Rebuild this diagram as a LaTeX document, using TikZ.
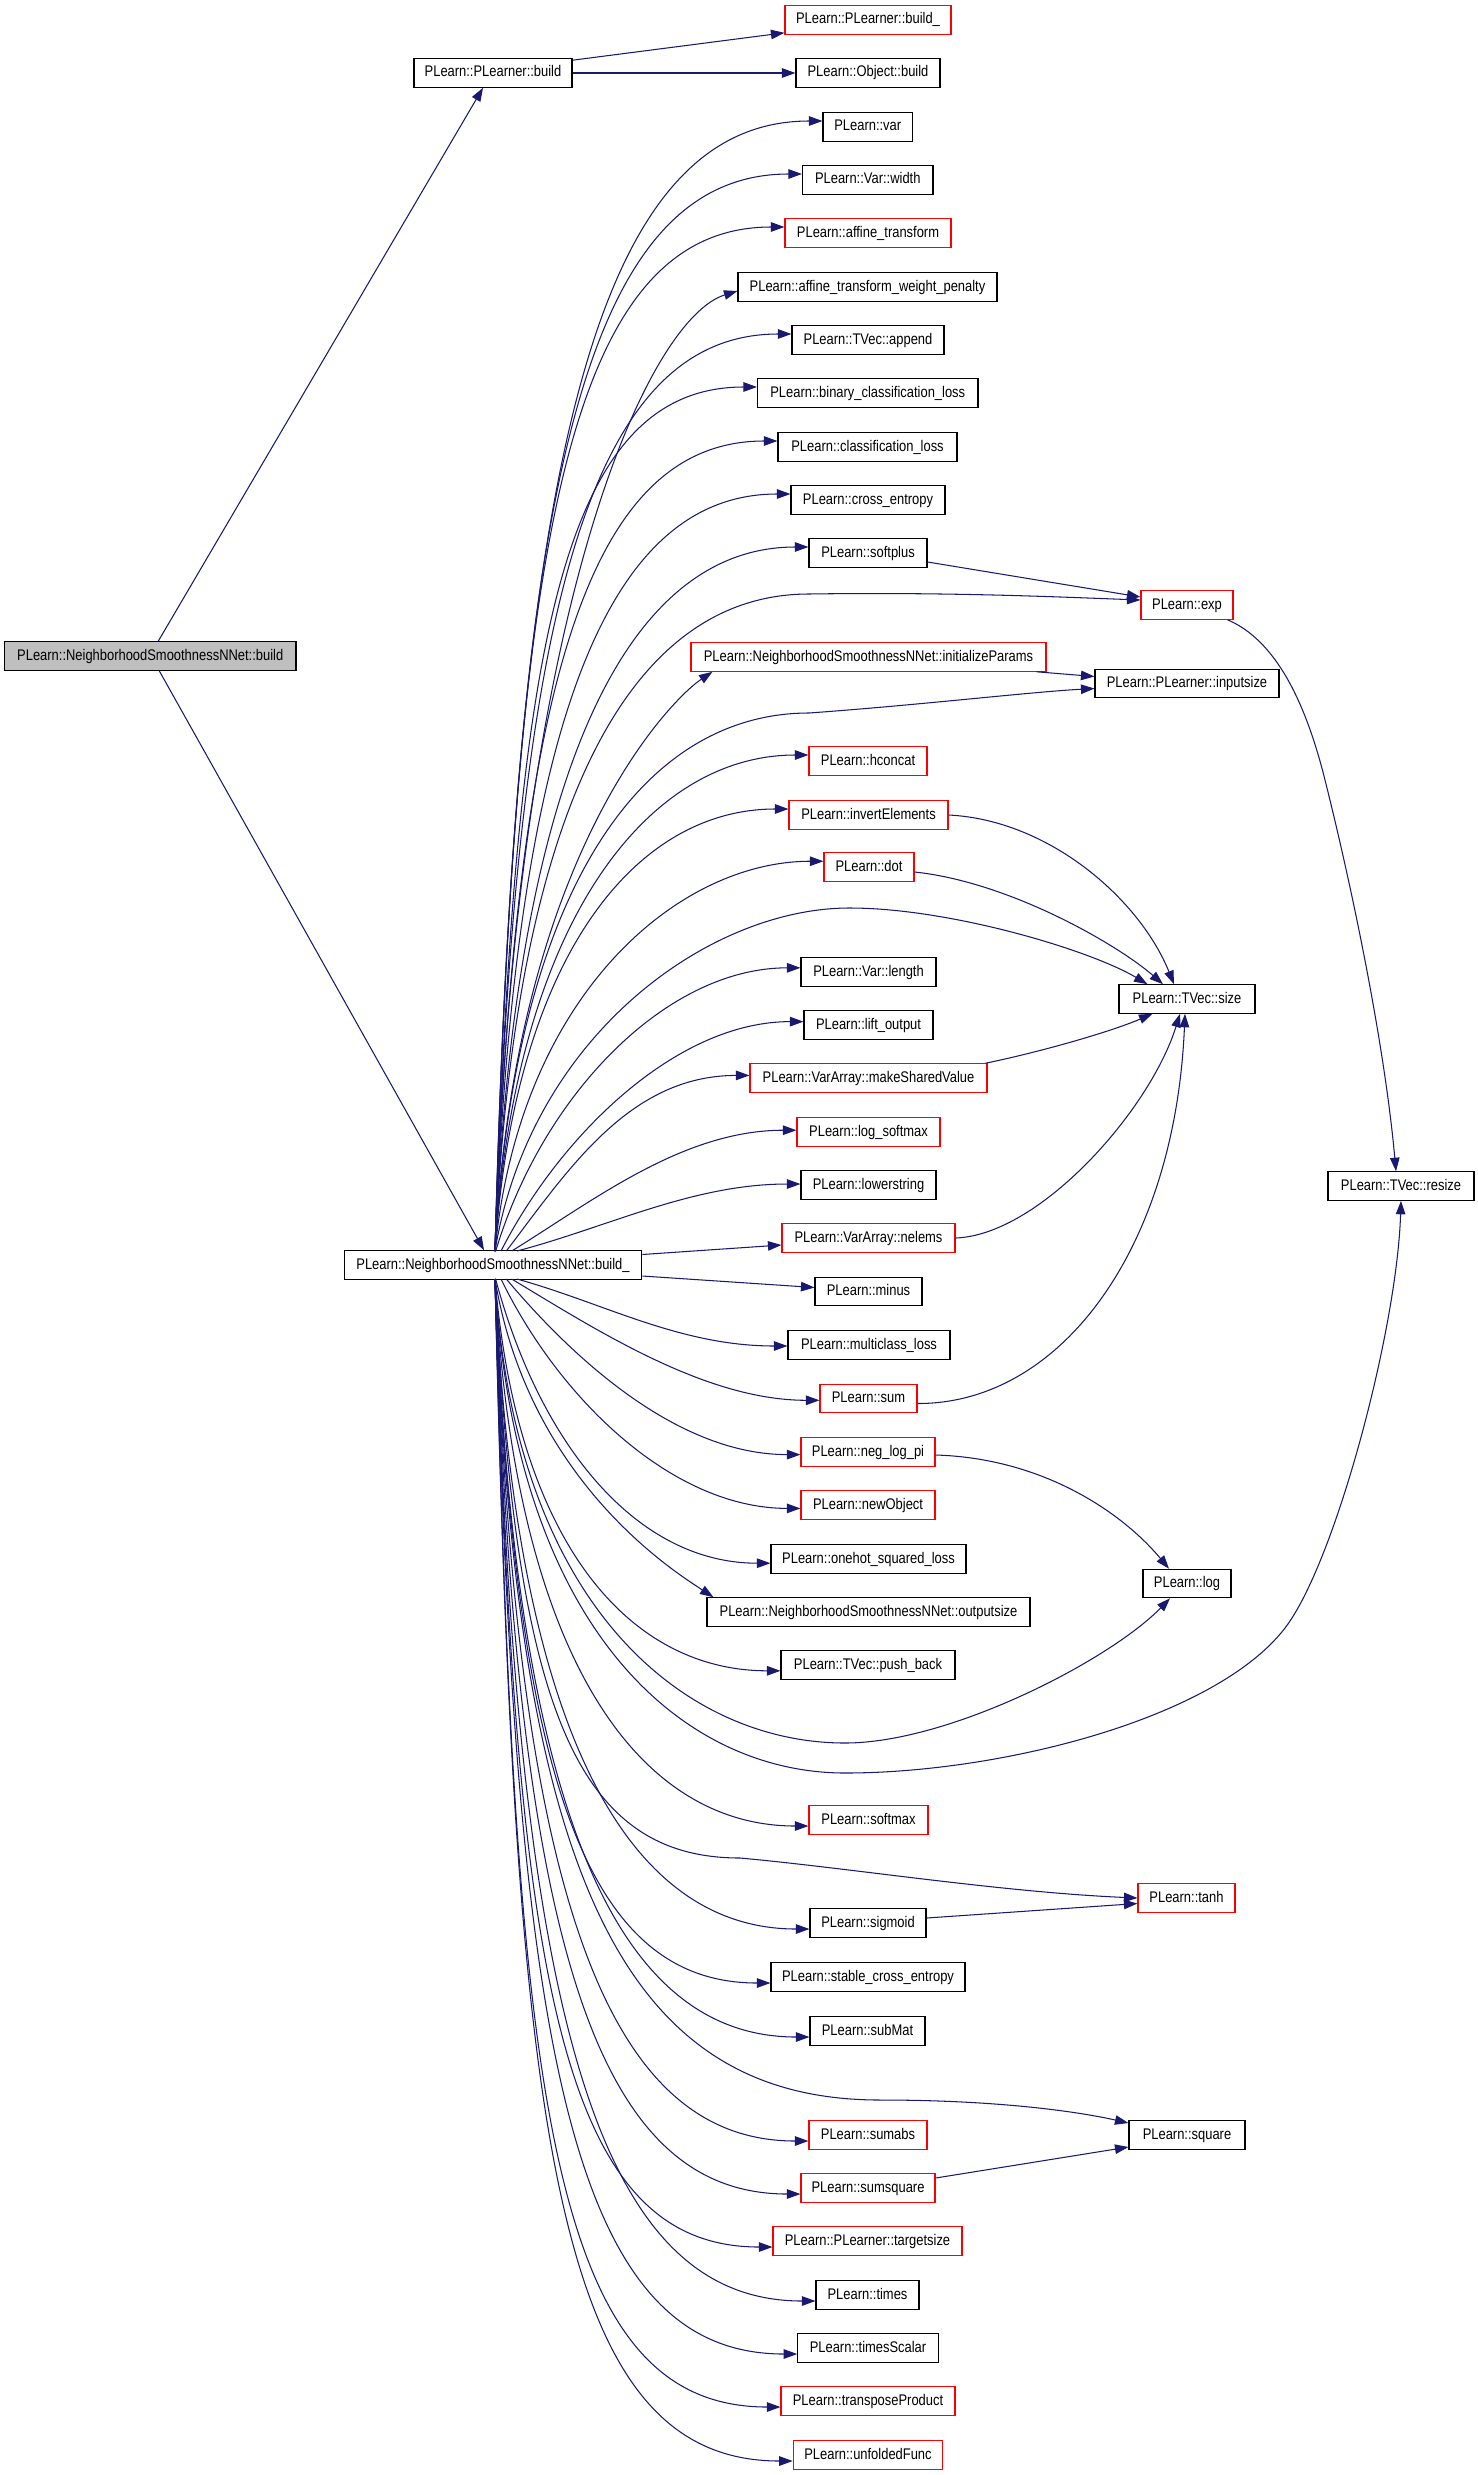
\documentclass[tikz,border=0pt]{standalone}
\usepackage{fontspec}
\setmainfont{Liberation Sans}[FakeStretch=0.84]
\usetikzlibrary{arrows.meta,calc}
\definecolor{edgecol}{HTML}{191970}
\definecolor{rootfill}{HTML}{BFBFBF}
\tikzset{
  box/.style={draw=black, line width=1.1pt, minimum height=28.5pt, inner sep=0pt,
    font=\fontsize{15.4}{18}\selectfont, text height=11pt, text depth=3pt, anchor=center},
  rbox/.style={box, draw=red},
  gbox/.style={box, fill=rootfill},
  edge/.style={draw=edgecol, line width=1.05pt, -{Triangle[length=13.5pt,width=9.5pt]}},
}
% fan edge from bu to a node anchor
\newcommand\fan[6]{%
  \pgfpointanchor{bu}{center}\pgfgetlastxy{\fnBx}{\fnBy}%
  \pgfpointanchor{#1}{#2}\pgfgetlastxy{\fnTx}{\fnTy}%
  \pgfmathsetmacro\fnbx{\fnBx}%
  \pgfmathsetmacro\fnby{\fnBy}%
  \pgfmathsetmacro\fntx{\fnTx}%
  \pgfmathsetmacro\fnty{\fnTy}%
  \pgfmathsetmacro\fnsg{(\fnty>\fnby)?1:-1}%
  \pgfmathsetmacro\fndc{abs(\fnty-\fnby)}%
  \pgfmathsetmacro\fnox{2+max(0,30-\fndc/10)}%
  \pgfmathsetmacro\fnsx{\fnbx+\fnox}%
  \pgfmathsetmacro\fnsoff{\fnsg*14}%
  \pgfmathsetmacro\fnsy{\fnby+\fnsoff}%
  \pgfmathsetmacro\fnds{abs(\fnty-\fnsy)}%
  \pgfmathsetmacro\fnw{min(1,\fnds/400)}%
  \pgfmathsetmacro\fnfr{(\fnsg>0)?0.68:0.72}%
  \pgfmathsetmacro\fnax{\fnsx+20+(1-\fnw)*0.3*(\fntx-\fnsx)}%
  \pgfmathsetmacro\fnay{\fnsy+\fnsg*\fnds*(\fnfr*\fnw+(1-\fnw)*0.3)}%
  \pgfmathsetmacro\fney{\fnsg*(#3)*\fnw}%
  \ifx\relax#4\relax
    \pgfmathsetmacro\fncx{\fntx-100-0.12*\fnds}%
    \pgfmathsetmacro\fncy{\fnty+\fney}%
  \else
    \pgfmathsetmacro\fncx{#4}%
    \pgfmathsetmacro\fncy{-(#5)}%
  \fi
  \draw[edge,#6] ($(bu.center)+(\fnox pt,\fnsoff pt)$) .. controls (\fnax pt,\fnay pt) and (\fncx pt,\fncy pt) .. ($(#1.#2)+(0pt,\fney pt)$);%
}
\begin{document}
\begin{tikzpicture}[x=1pt,y=-1pt]
\fill[white] (0,0) rectangle (1477,2475);
\useasboundingbox (0,0) rectangle (1477,2475);

\node[rbox, minimum width=166pt] (plbu) at (868,20) {PLearn::PLearner::build\_};
\node[box, minimum width=144pt] (obj) at (868,73) {PLearn::Object::build};
\node[box, minimum width=89.5pt] (var) at (867.75,127) {PLearn::var};
\node[box, minimum width=130.5pt] (vwidth) at (867.75,180) {PLearn::Var::width};
\node[rbox, minimum width=166pt] (afft) at (868,233) {PLearn::affine\_transform};
\node[box, minimum width=259pt] (afftw) at (867.5,287) {PLearn::affine\_transform\_weight\_penalty};
\node[box, minimum width=152pt] (append) at (868,340) {PLearn::TVec::append};
\node[box, minimum width=220.5pt] (bincl) at (867.75,393) {PLearn::binary\_classification\_loss};
\node[box, minimum width=179pt] (cl) at (867.5,447) {PLearn::classification\_loss};
\node[box, minimum width=154pt] (xent) at (868,500) {PLearn::cross\_entropy};
\node[box, minimum width=118pt] (softplus) at (868,553) {PLearn::softplus};
\node[rbox, minimum width=92pt] (exp) at (1187,605) {PLearn::exp};
\node[rbox, minimum width=355pt] (initp) at (868.5,657) {PLearn::NeighborhoodSmoothnessNNet::initializeParams};
\node[box, minimum width=184pt] (inputsize) at (1187,683.5) {PLearn::PLearner::inputsize};
\node[rbox, minimum width=118pt] (hconcat) at (868,761) {PLearn::hconcat};
\node[rbox, minimum width=159pt] (inv) at (868.5,815) {PLearn::invertElements};
\node[rbox, minimum width=90pt] (dot) at (869,867) {PLearn::dot};
\node[box, minimum width=135pt] (vlength) at (868.5,972) {PLearn::Var::length};
\node[box, minimum width=136pt] (tsize) at (1187,999) {PLearn::TVec::size};
\node[box, minimum width=129pt] (lift) at (868.5,1025) {PLearn::lift\_output};
\node[rbox, minimum width=237pt] (msv) at (868.5,1078) {PLearn::VarArray::makeSharedValue};
\node[rbox, minimum width=143pt] (lsm) at (868.5,1132) {PLearn::log\_softmax};
\node[box, minimum width=135pt] (lower) at (868.5,1185) {PLearn::lowerstring};
\node[box, minimum width=146pt] (resize) at (1401,1186) {PLearn::TVec::resize};
\node[rbox, minimum width=173pt] (nelems) at (868.5,1238) {PLearn::VarArray::nelems};
\node[box, minimum width=107pt] (minus) at (868.5,1291.5) {PLearn::minus};
\node[box, minimum width=162pt] (mcl) at (869,1345) {PLearn::multiclass\_loss};
\node[rbox, minimum width=97pt] (sum) at (868.5,1398.5) {PLearn::sum};
\node[rbox, minimum width=134pt] (nlp) at (868,1452) {PLearn::neg\_log\_pi};
\node[rbox, minimum width=134pt] (newobj) at (868,1505) {PLearn::newObject};
\node[box, minimum width=195pt] (onehot) at (868.5,1559) {PLearn::onehot\_squared\_loss};
\node[box, minimum width=88pt] (log) at (1187,1583.5) {PLearn::log};
\node[box, minimum width=323pt] (outsize) at (868.5,1612) {PLearn::NeighborhoodSmoothnessNNet::outputsize};
\node[box, minimum width=174pt] (pushb) at (868,1665) {PLearn::TVec::push\_back};
\node[rbox, minimum width=119pt] (softmax) at (868.5,1820) {PLearn::softmax};
\node[rbox, minimum width=97pt] (tanh) at (1186.5,1898) {PLearn::tanh};
\node[box, minimum width=116pt] (sigmoid) at (868,1923) {PLearn::sigmoid};
\node[box, minimum width=194pt] (sce) at (868,1977) {PLearn::stable\_cross\_entropy};
\node[box, minimum width=115pt] (submat) at (867.5,2031) {PLearn::subMat};
\node[box, minimum width=116pt] (square) at (1187,2135) {PLearn::square};
\node[rbox, minimum width=118pt] (sumabs) at (868,2135) {PLearn::sumabs};
\node[rbox, minimum width=134pt] (sumsq) at (868,2188) {PLearn::sumsquare};
\node[rbox, minimum width=189pt] (target) at (867.5,2241) {PLearn::PLearner::targetsize};
\node[box, minimum width=103pt] (times) at (867.5,2295) {PLearn::times};
\node[box, minimum width=140.5pt] (timess) at (868,2348) {PLearn::timesScalar};
\node[rbox, minimum width=174pt] (tprod) at (868,2401) {PLearn::transposeProduct};
\node[rbox, minimum width=149.5pt] (unf) at (868,2455) {PLearn::unfoldedFunc};
\node[gbox, minimum width=291.5pt] (root) at (150.25,656) {PLearn::NeighborhoodSmoothnessNNet::build};
\node[box, minimum width=158pt] (plb) at (493,73) {PLearn::PLearner::build};
\node[box, minimum width=297.5pt] (bu) at (493,1265) {PLearn::NeighborhoodSmoothnessNNet::build\_};

% helper points
\coordinate (vexp) at (809,594);
\coordinate (vinp) at (809,713);
\coordinate (vsize) at (849.5,908);
\coordinate (vlog) at (845,1743);
\coordinate (vres) at (845,1773);
\coordinate (vres2) at (1285,1628);
\coordinate (vtanh) at (740,1858);
\coordinate (vsq) at (880,2100);
\coordinate (vexr) at (1325,780);
\coordinate (initpin) at ($(initp.south west)+(22,0)$);
\coordinate (outpin) at ($(outsize.north west)+(7,0)$);

% left part
\draw[edge] ($(root.north)+(8,0)$) -- ($(plb.south)+(-10,0)$);
\draw[edge] ($(root.south)+(9,0)$) -- ($(bu.north)+(-9,0)$);
\draw[edge] ($(plb.north east)+(0,2)$) -- ($(plbu.south west)+(0,-2)$);
\draw[edge] (plb.east) -- (obj.west);

% fan from build_
\foreach \t in {var,vwidth,afft,append,bincl,cl,xent,softplus,hconcat,inv,dot,vlength,lift,msv,lsm,lower,mcl,sum,nlp,newobj,onehot,pushb,softmax,sigmoid,sce,submat,sumabs,sumsq,target,times,timess,tprod,unf}{\fan{\t}{west}{6}{}{}{}}
\fan{afftw}{west}{-4}{650}{318}{}
\fan{initpin}{center}{0}{670}{700}{}
\fan{outpin}{center}{0}{675}{1572}{}
\draw[edge] ($(bu.east)+(0,-10.5)$) -- ($(nelems.west)+(0,7)$);
\draw[edge] ($(bu.east)+(0,11)$) -- ($(minus.west)+(0,-4)$);

% long routes from build_
\fan{vexp}{center}{0}{}{}{-}
\draw[edge] (vexp) .. controls (950,592) and (1060,597) .. ($(exp.west)+(0,-5)$);
\fan{vinp}{center}{0}{}{}{-}
\draw[edge] (vinp) .. controls (920,705) and (1030,692) .. ($(inputsize.west)+(0,5)$);
\fan{vsize}{center}{0}{}{}{-}
\draw[edge] (vsize) .. controls (950,908) and (1090,950) .. ($(tsize.north west)+(29,0)$);
\fan{vlog}{center}{0}{}{}{-}
\draw[edge] (vlog) .. controls (950,1743) and (1110,1660) .. ($(log.south)+(-17,0)$);
\fan{vres}{center}{0}{}{}{-}
\draw[edge] (vres) .. controls (1000,1773) and (1215,1719) .. (vres2) .. controls (1335,1563) and (1397,1330) .. (resize.south);
\fan{vtanh}{center}{0}{}{}{-}
\draw[edge] (vtanh) .. controls (850,1868) and (1000,1892) .. (tanh.west);
\fan{vsq}{center}{0}{620}{2100}{-}
\draw[edge] (vsq) .. controls (1000,2100) and (1080,2112) .. ($(square.west)+(0,-12)$);

% second level
\draw[edge] ($(softplus.east)+(0,9)$) -- ($(exp.west)+(0,-8)$);
\draw[edge] ($(initp.south east)+(-10,0)$) -- ($(inputsize.west)+(0,-7)$);
\draw[edge] (inv.east) .. controls (1050,820) and (1140,900) .. ($(tsize.north)+(-13,0)$);
\draw[edge] ($(dot.east)+(0,5)$) .. controls (1010,882) and (1118,945) .. ($(tsize.north)+(-24,0)$);
\draw[edge] ($(msv.north east)+(-2,0)$) .. controls (1040,1052) and (1110,1032) .. ($(tsize.south west)+(34,0)$);
\draw[edge] (nelems.east) .. controls (1040,1235) and (1150,1110) .. ($(tsize.south)+(-7,0)$);
\draw[edge] ($(sum.east)+(0,5)$) .. controls (1060,1404) and (1175,1250) .. ($(tsize.south)+(-2,0)$);
\draw[edge] ($(nlp.east)+(0,3)$) .. controls (1040,1458) and (1120,1510) .. ($(log.north)+(-18,0)$);
\draw[edge] ($(sigmoid.east)+(0,-5)$) -- ($(tanh.west)+(0,5.5)$);
\draw[edge] ($(sumsq.east)+(0,-10)$) -- ($(square.west)+(0,12)$);
\draw[edge] ($(exp.south east)+(-6,0)$) .. controls (1275,640) and (1305,700) .. (vexr) .. controls (1355,900) and (1385,1050) .. ($(resize.north)+(-5,0)$);
\end{tikzpicture}
\end{document}
